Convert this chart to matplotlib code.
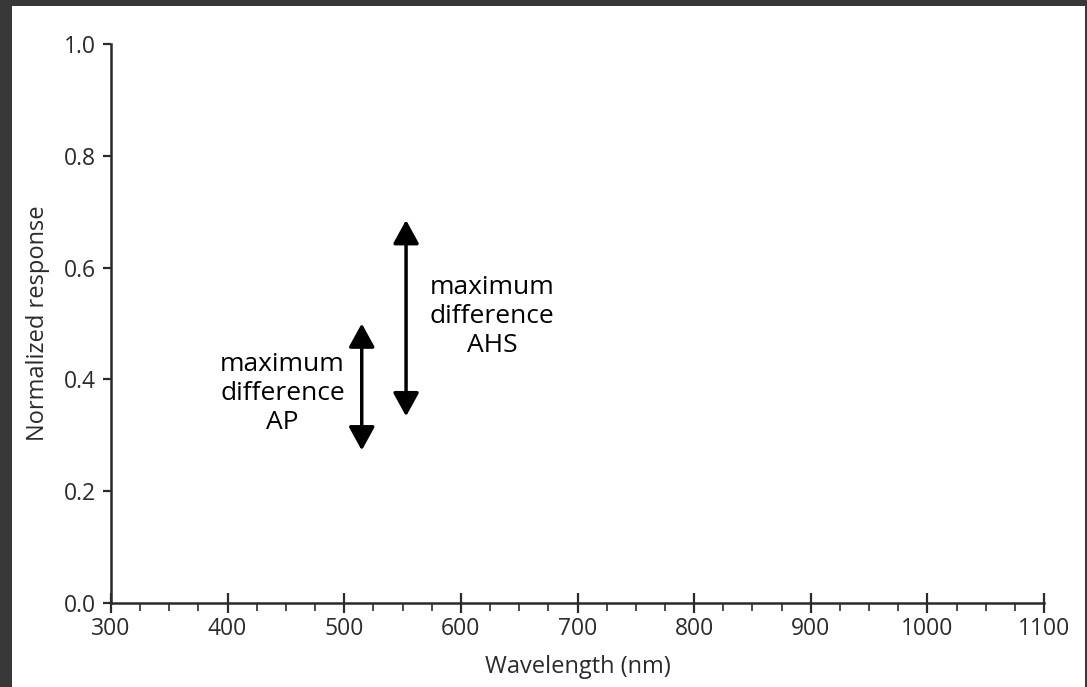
import matplotlib
matplotlib.use("Agg")
import matplotlib.pyplot as plt
import numpy as np

plt.rcParams['font.family'] = ['Open Sans', 'DejaVu Sans']

# Axis ranges and ticks
x_range = [300, 1100]
y_range = [0.0, 1.0]
x_major = [300, 400, 500, 600, 700, 800, 900, 1000, 1100]
y_major = [0.0, 0.2, 0.4, 0.6, 0.8, 1.0]

# Double-headed arrows: wavelength, lower end, upper end
arrow_names = ['AP', 'AHS']
arrow_x = [515, 553]
arrow_lo = [0.273, 0.334]
arrow_hi = [0.500, 0.685]

# Labels next to the arrows
label_x = [447, 627]
label_y = [0.375, 0.513]

ink = '#2b2b2b'

fig = plt.figure(figsize=(10.87, 6.87), dpi=100)
fig.patch.set_facecolor('#383838')
# white page inside the dark frame
fig.add_artist(plt.Rectangle((12 / 1087, 0), (1085 - 12) / 1087, 1 - 6 / 687,
                             transform=fig.transFigure, facecolor='white',
                             edgecolor='none', zorder=-1))

ax = fig.add_axes([111 / 1087, 1 - 603 / 687, (1044 - 111) / 1087, (603 - 44) / 687])
ax.set_facecolor('white')
ax.set_xlim(x_range)
ax.set_ylim(y_range)

for side in ['top', 'right']:
    ax.spines[side].set_visible(False)
for side in ['left', 'bottom']:
    ax.spines[side].set_color(ink)
    ax.spines[side].set_linewidth(1.8)

ax.set_xticks(x_major)
ax.set_xticks(np.arange(325, 1100, 25), minor=True)
ax.set_yticks(y_major)
ax.set_yticklabels([f'{v:.1f}' for v in y_major])

ax.tick_params(axis='x', which='major', direction='inout', length=14, width=1.6,
               color=ink, labelsize=16.5, labelcolor=ink, pad=3)
ax.tick_params(axis='x', which='minor', direction='out', length=6, width=1.2, color=ink)
ax.tick_params(axis='y', which='major', direction='out', length=6, width=1.6,
               color=ink, labelsize=16.5, labelcolor=ink, pad=5)

ax.set_xlabel('Wavelength (nm)', fontsize=17, color=ink, labelpad=10)
ax.set_ylabel('Normalized response', fontsize=17, color=ink, labelpad=10)

for i, name in enumerate(arrow_names):
    ax.annotate('', xy=(arrow_x[i], arrow_hi[i]), xytext=(arrow_x[i], arrow_lo[i]),
                arrowprops=dict(arrowstyle='<|-|>,head_length=0.6,head_width=0.33',
                                color='black', lw=2.5,
                                mutation_scale=24, shrinkA=0, shrinkB=0))
    ax.text(label_x[i], label_y[i], 'maximum\ndifference\n' + name,
            ha='center', va='center', fontsize=19, color='black', linespacing=1.2)

fig.savefig('out.png', dpi=100, facecolor=fig.get_facecolor())
